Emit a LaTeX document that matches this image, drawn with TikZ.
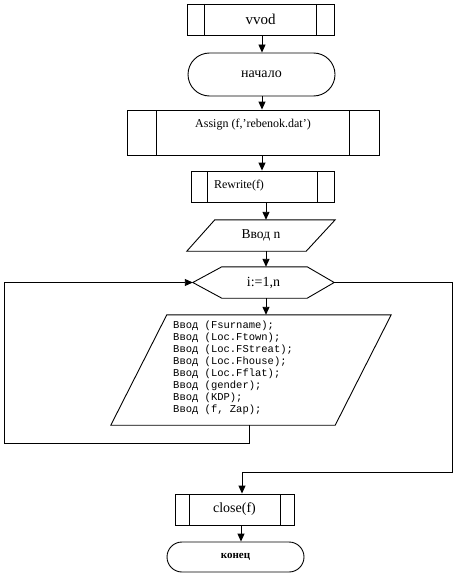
\documentclass[tikz,border=0pt]{standalone}
\usepackage{fontspec}
\setmainfont{Liberation Serif}
\newfontfamily\codefont{Liberation Mono}
\usetikzlibrary{arrows.meta,calc}
\tikzset{
  ln/.style={line width=0.9pt},
  arr/.style={ln,-{Triangle[length=8pt,width=7pt]}},
  box/.style={draw,ln,rectangle,inner sep=0pt},
  ghost/.style={rectangle,inner sep=0pt},
  pproc/.style={box,path picture={
     \draw[ln] ([xshift=#1]path picture bounding box.north west) -- ([xshift=#1]path picture bounding box.south west);
     \draw[ln] ([xshift=-#1]path picture bounding box.north east) -- ([xshift=-#1]path picture bounding box.south east);}},
  term/.style={box,rounded corners=#1}
}
\begin{document}
\begin{tikzpicture}[x=1pt,y=-1pt]
\useasboundingbox (0,0) rectangle (456,578);
% shapes
\node[pproc=17.5pt,minimum width=147pt,minimum height=31pt,font=\fontsize{15}{17}\selectfont] (vvod) at (260.5,19.5) {vvod};
\node[term=21.5pt,minimum width=147pt,minimum height=43pt,font=\fontsize{14}{16}\selectfont] (start) at (261.5,74.5) {начало};
\node[pproc=29.5pt,minimum width=252pt,minimum height=45pt] (assign) at (253,132.5) {};
\node[font=\fontsize{12}{14}\selectfont] (assigntext) at (253,125) {Assign (f,'rebenok.dat')};
\node[pproc=16.5pt,minimum width=143pt,minimum height=31pt] (rewrite) at (262.5,186.5) {};
\node[font=\fontsize{12}{14}\selectfont] (rewritetext) at (239,186) {Rewrite(f)};
\node[ghost,minimum width=148pt,minimum height=31pt,font=\fontsize{13.5}{16}\selectfont] (inputn) at (261,235.5) {Ввод n};
\draw[ln] ([xshift=28pt]inputn.north west) -- (inputn.north east) -- ([xshift=-29pt]inputn.south east) -- (inputn.south west) -- cycle;
\node[ghost,minimum width=141pt,minimum height=31pt,font=\fontsize{14}{16}\selectfont] (loop) at (263.5,282.5) {i:=1,n};
\draw[ln] (loop.west) -- ([xshift=29pt]loop.north west) -- ([xshift=-27pt]loop.north east) -- (loop.east) -- ([xshift=-27pt]loop.south east) -- ([xshift=29pt]loop.south west) -- cycle;
\node[ghost,minimum width=280pt,minimum height=110pt] (data) at (251,370) {};
\draw[ln] ([xshift=56pt]data.north west) -- (data.north east) -- ([xshift=-56pt]data.south east) -- (data.south west) -- cycle;
\node[anchor=north west,inner sep=0pt,align=left,font=\codefont\fontsize{10.5}{12}\selectfont] (code) at (173,321) {Ввод (Fsurname);\\Ввод (Loc.Ftown);\\Ввод (Loc.FStreat);\\Ввод (Loc.Fhouse);\\Ввод (Loc.Fflat);\\Ввод (gender);\\Ввод (KDP);\\Ввод (f, Zap);};
\node[pproc=14pt,minimum width=119pt,minimum height=31pt,font=\fontsize{14}{16}\selectfont] (close) at (234.5,509.5) {close(f)};
\node[term=15pt,minimum width=137pt,minimum height=30pt,font=\bfseries\fontsize{11}{13}\selectfont] (end) at (235.5,557) {конец};
% helper coordinates
\coordinate (d1) at (249,443);
\coordinate (d2) at (4,443);
\coordinate (d3) at (4,282.5);
\coordinate (e1) at (452,282.5);
\coordinate (e2) at (452,472);
\coordinate (e3) at (242,472);
% connectors
\draw[arr] (vvod.south -| 262,0) -- (start.north -| 262,0);
\draw[arr] (start.south -| 262,0) -- (assign.north -| 262,0);
\draw[arr] (assign.south -| 262,0) -- (rewrite.north -| 262,0);
\draw[arr] (rewrite.south -| 266,0) -- (inputn.north -| 266,0);
\draw[arr] (inputn.south -| 266,0) -- (loop.north -| 266,0);
\draw[arr] (loop.south -| 266,0) -- (data.north -| 266,0);
\draw[arr] (data.south -| d1) -- (d1) -- (d2) -- (d3) -- (loop.west);
\draw[arr] (loop.east) -- (e1) -- (e2) -- (e3) -- (close.north -| e3);
\draw[arr] (close.south -| 241,0) -- (end.north -| 241,0);
\end{tikzpicture}
\end{document}
